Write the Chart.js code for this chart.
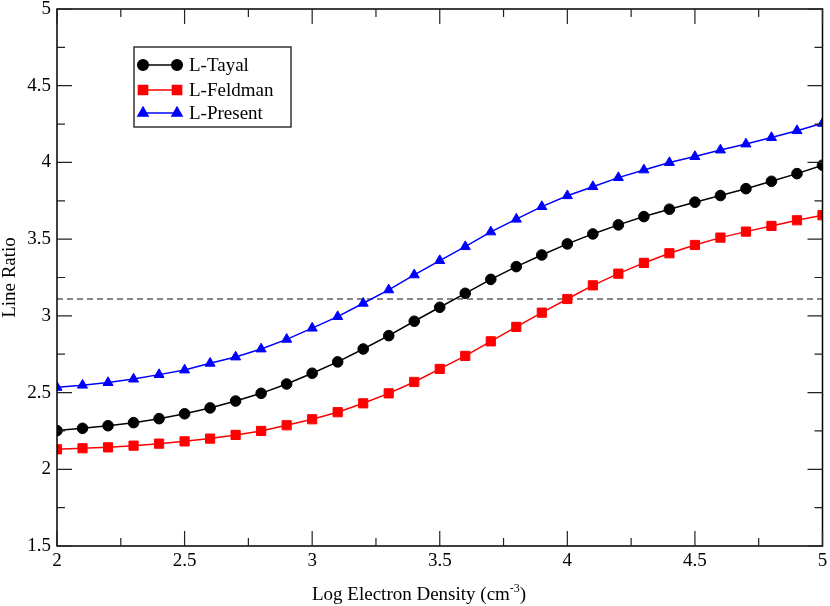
<!DOCTYPE html>
<html>
<head>
<meta charset="utf-8">
<script src="https://cdn.jsdelivr.net/npm/chart.js@4"></script>
<style>
  html, body { margin: 0; padding: 0; background: #fff; }
  #wrap { width: 830px; height: 606px; }
</style>
</head>
<body>
<div id="wrap"><canvas id="c" width="830" height="606"></canvas></div>
<script>
// log electron density (cm^-3)
const density = [2.0, 2.1, 2.2, 2.3, 2.4, 2.5, 2.6, 2.7, 2.8, 2.9,
                 3.0, 3.1, 3.2, 3.3, 3.4, 3.5, 3.6, 3.7, 3.8, 3.9,
                 4.0, 4.1, 4.2, 4.3, 4.4, 4.5, 4.6, 4.7, 4.8, 4.9, 5.0];

const tayal = [2.252, 2.267, 2.284, 2.304, 2.33, 2.362, 2.40, 2.445, 2.495, 2.556,
               2.626, 2.70, 2.784, 2.871, 2.965, 3.056, 3.147, 3.238, 3.321, 3.397,
               3.469, 3.534, 3.593, 3.647, 3.695, 3.741, 3.784, 3.829, 3.877, 3.927, 3.982];

const feldman = [2.130, 2.137, 2.143, 2.154, 2.167, 2.182, 2.20, 2.224, 2.25, 2.287,
                 2.326, 2.372, 2.43, 2.495, 2.569, 2.654, 2.739, 2.834, 2.928, 3.021,
                 3.11, 3.199, 3.275, 3.345, 3.408, 3.462, 3.51, 3.549, 3.586, 3.623, 3.656];

const present = [2.534, 2.548, 2.565, 2.588, 2.617, 2.647, 2.691, 2.732, 2.784, 2.847,
                 2.92, 2.995, 3.082, 3.169, 3.267, 3.36, 3.451, 3.547, 3.63, 3.712,
                 3.783, 3.842, 3.901, 3.951, 3.999, 4.038, 4.081, 4.12, 4.162, 4.207, 4.255];

// observed ratio (dashed line)
const observedRatio = 3.11;

const xTicks = [2, 2.5, 3, 3.5, 4, 4.5, 5];
const yTicks = [1.5, 2, 2.5, 3, 3.5, 4, 4.5, 5];

const FONT = '"Liberation Serif", "Times New Roman", serif';
Chart.defaults.font.family = FONT;
Chart.defaults.font.size = 19;
Chart.defaults.color = '#000';

const pts = arr => arr.map((v, i) => ({ x: density[i], y: v }));

// inside ticks on all 4 sides, frame, legend box and axis titles
const decor = {
    id: 'decor',
    afterDraw(chart) {
        const ctx = chart.ctx;
        const a = chart.chartArea;
        const xs = chart.scales.x, ys = chart.scales.y;
        ctx.save();
        ctx.strokeStyle = '#000';
        ctx.lineWidth = 1.5;
        ctx.strokeRect(a.left, a.top, a.right - a.left, a.bottom - a.top);

        ctx.lineWidth = 1.2;
        ctx.strokeStyle = '#222';
        ctx.beginPath();
        for (let v = 2; v <= 5.001; v += 0.25) {
            const px = xs.getPixelForValue(v);
            const len = Math.abs(v * 2 - Math.round(v * 2)) < 1e-6 ? 15 : 8;
            ctx.moveTo(px, a.bottom); ctx.lineTo(px, a.bottom - len);
            ctx.moveTo(px, a.top); ctx.lineTo(px, a.top + len);
        }
        for (let v = 1.5; v <= 5.001; v += 0.25) {
            const py = ys.getPixelForValue(v);
            const len = Math.abs(v * 2 - Math.round(v * 2)) < 1e-6 ? 15 : 8;
            ctx.moveTo(a.left, py); ctx.lineTo(a.left + len, py);
            ctx.moveTo(a.right, py); ctx.lineTo(a.right - len, py);
        }
        ctx.stroke();

        // legend
        const bx = 134, by = 47, bw = 157, bh = 80;
        ctx.fillStyle = '#fff';
        ctx.fillRect(bx, by, bw, bh);
        ctx.lineWidth = 1.5;
        ctx.strokeStyle = '#333';
        ctx.strokeRect(bx, by, bw, bh);
        const rows = [65, 90, 113];
        chart.data.datasets.slice(0, 3).forEach((ds, i) => {
            const y = rows[i];
            ctx.strokeStyle = ds.borderColor;
            ctx.lineWidth = ds.borderWidth;
            ctx.beginPath();
            ctx.moveTo(143, y); ctx.lineTo(177, y);
            ctx.stroke();
            const opts = { pointStyle: ds.pointStyle, radius: ds.pointRadius, rotation: 0, borderWidth: 1 };
            ctx.fillStyle = ds.pointBackgroundColor;
            ctx.strokeStyle = ds.pointBorderColor;
            Chart.helpers.drawPoint(ctx, opts, 143, y);
            Chart.helpers.drawPoint(ctx, opts, 177, y);
            ctx.fillStyle = '#000';
            ctx.font = '19px ' + FONT;
            ctx.textAlign = 'left';
            ctx.textBaseline = 'middle';
            ctx.fillText(ds.label, 189, y + 1);
        });

        // axis titles
        ctx.fillStyle = '#000';
        ctx.textBaseline = 'alphabetic';
        const main = 'Log Electron Density (cm';
        ctx.font = '19px ' + FONT;
        const w1 = ctx.measureText(main).width;
        ctx.font = '12px ' + FONT;
        const w2 = ctx.measureText('-3').width;
        const x0 = 312;
        ctx.textAlign = 'left';
        ctx.font = '19px ' + FONT;
        ctx.fillText(main, x0, 600);
        ctx.font = '12px ' + FONT;
        ctx.fillText('-3', x0 + w1, 592);
        ctx.font = '19px ' + FONT;
        ctx.fillText(')', x0 + w1 + w2, 600);

        ctx.translate(15, (a.top + a.bottom) / 2);
        ctx.rotate(-Math.PI / 2);
        ctx.textAlign = 'center';
        ctx.fillText('Line Ratio', 0, 0);
        ctx.restore();
    }
};

const line = (label, data, color, style, r) => ({
    label: label,
    data: pts(data),
    borderColor: color,
    backgroundColor: color,
    pointBackgroundColor: color,
    pointBorderColor: color,
    pointStyle: style,
    pointRadius: r,
    pointHoverRadius: r,
    pointBorderWidth: 1,
    borderWidth: 1.5,
    tension: 0
});

new Chart(document.getElementById('c'), {
    type: 'line',
    data: {
        datasets: [
            line('L-Tayal', tayal, '#000000', 'circle', 5.3),
            line('L-Feldman', feldman, '#ff0000', 'rect', 6.5),
            line('L-Present', present, '#0000ff', 'triangle', 5.8),
            {
                label: 'observed',
                data: [{ x: density[0], y: observedRatio }, { x: density[density.length - 1], y: observedRatio }],
                borderColor: '#111',
                borderWidth: 1.2,
                borderDash: [6, 4],
                pointRadius: 0,
                fill: false
            }
        ]
    },
    options: {
        responsive: false,
        animation: false,
        layout: { padding: { top: 9, right: 6, left: 0, bottom: 0 } },
        plugins: { legend: { display: false }, tooltip: { enabled: false } },
        scales: {
            x: {
                type: 'linear',
                min: 2, max: 5,
                afterBuildTicks: s => { s.ticks = xTicks.map(v => ({ value: v })); },
                afterFit: s => { s.height = 60; s.paddingLeft = 0; s.paddingRight = 0; },
                grid: { display: false, drawTicks: false },
                border: { display: false },
                ticks: {
                    color: '#000', font: { family: FONT, size: 19 }, padding: 4, maxRotation: 0,
                    callback: v => String(v)
                }
            },
            y: {
                type: 'linear',
                min: 1.5, max: 5,
                afterBuildTicks: s => { s.ticks = yTicks.map(v => ({ value: v })); },
                afterFit: s => { s.width = 57; s.paddingTop = 0; s.paddingBottom = 0; },
                grid: { display: false, drawTicks: false },
                border: { display: false },
                ticks: {
                    color: '#000', font: { family: FONT, size: 19 }, padding: 6,
                    callback: v => String(v)
                }
            }
        }
    },
    plugins: [decor]
});
</script>
</body>
</html>
